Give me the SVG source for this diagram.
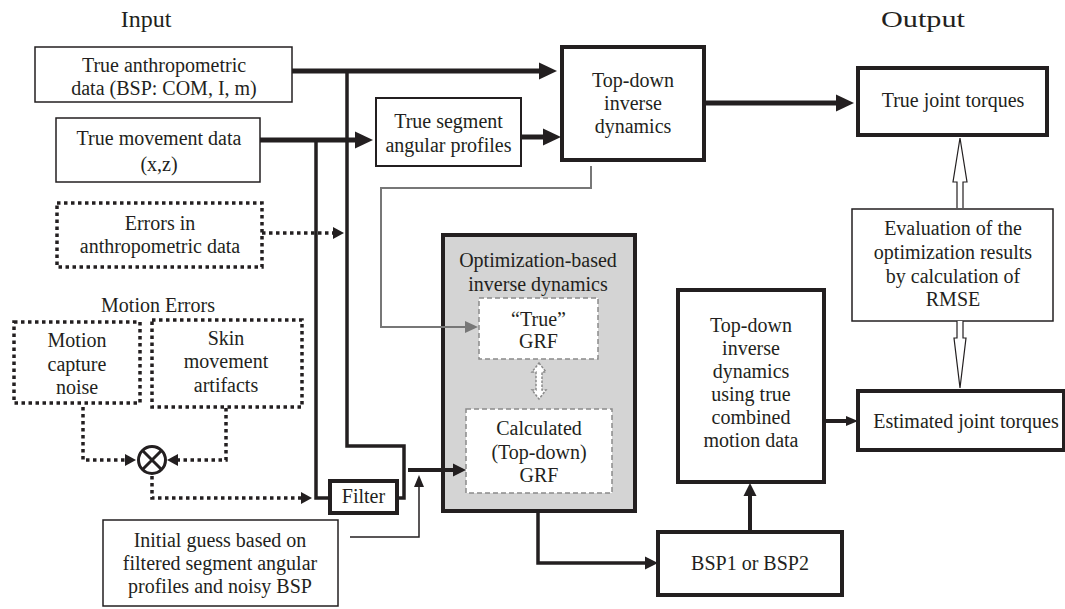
<svg xmlns="http://www.w3.org/2000/svg" width="1065" height="609" viewBox="0 0 1065 609">
<style>
text{font-family:"Liberation Serif","Times New Roman","DejaVu Serif",serif;font-size:20px;fill:#231f20;text-anchor:middle}
.lbl{font-size:24px}
.thin{fill:#fff;stroke:#231f20;stroke-width:1.5}
.mid{fill:#fff;stroke:#231f20;stroke-width:2}
.thick{fill:#fff;stroke:#231f20;stroke-width:4}
.dot{fill:#fff;stroke:#231f20;stroke-width:3.5;stroke-dasharray:3.5 3.5}
.dash{fill:#fff;stroke:#8a8a8a;stroke-width:1.5;stroke-dasharray:5 3}
.c{fill:none;stroke:#231f20}
.dc{fill:none;stroke:#231f20;stroke-width:3.5;stroke-dasharray:3.5 3.5}
</style>
<defs>
<marker id="ahL" markerUnits="userSpaceOnUse" markerWidth="20" markerHeight="20" viewBox="0 -10 20 20" refX="0" refY="0" orient="auto"><path d="M0,-8.5 L18,0 L0,8.5 Z" fill="#231f20"/></marker>
<marker id="ahM" markerUnits="userSpaceOnUse" markerWidth="16" markerHeight="16" viewBox="0 -8 16 16" refX="0" refY="0" orient="auto"><path d="M0,-6.5 L13,0 L0,6.5 Z" fill="#231f20"/></marker>
<marker id="ahS" markerUnits="userSpaceOnUse" markerWidth="14" markerHeight="14" viewBox="0 -7 14 14" refX="0" refY="0" orient="auto"><path d="M0,-5 L12,0 L0,5 Z" fill="#231f20"/></marker>
<marker id="ahD" markerUnits="userSpaceOnUse" markerWidth="14" markerHeight="14" viewBox="0 -7 14 14" refX="0" refY="0" orient="auto"><path d="M0,-6 L11,0 L0,6 Z" fill="#231f20"/></marker>
<marker id="ahG" markerUnits="userSpaceOnUse" markerWidth="16" markerHeight="16" viewBox="0 -8 16 16" refX="0" refY="0" orient="auto"><path d="M0,-6 L13,0 L0,6 Z" fill="#777"/></marker>
</defs>
<rect width="1065" height="609" fill="#fff"/>

<text class="lbl" x="146" y="27">Input</text>
<text class="lbl" x="923" y="27" textLength="84" lengthAdjust="spacingAndGlyphs">Output</text>

<g id="true-anthro"><rect class="thin" x="35" y="47" width="257" height="55"/><text x="164" y="72">True anthropometric</text><text x="164" y="95">data (BSP: COM, I, m)</text></g>
<g id="true-movement"><rect class="thin" x="56" y="118" width="204" height="64"/><text x="159" y="145">True movement data</text><text x="159" y="171">(x,z)</text></g>
<g id="segment-profiles"><rect class="mid" x="376" y="98" width="145" height="68"/><text x="448.5" y="128">True segment</text><text x="448.5" y="152">angular profiles</text></g>
<g id="topdown"><rect class="thick" x="562" y="47" width="142" height="113"/><text x="633" y="87">Top-down</text><text x="633" y="110">inverse</text><text x="633" y="133">dynamics</text></g>
<g id="true-torques"><rect class="thick" x="858" y="68" width="189" height="67"/><text x="953" y="107">True joint torques</text></g>
<g id="evaluation"><rect class="thin" x="852" y="209" width="201" height="112"/><text x="953" y="235">Evaluation of the</text><text x="953" y="259">optimization results</text><text x="953" y="283">by calculation of</text><text x="953" y="306">RMSE</text></g>
<g id="errors-anthro"><rect class="dot" x="57" y="203" width="205" height="64"/><text x="160" y="230">Errors in</text><text x="160" y="253">anthropometric data</text></g>
<g id="motion-errors-label"><text x="158" y="312">Motion Errors</text></g>
<g id="capture-noise"><rect class="dot" x="14" y="322" width="126" height="81"/><text x="77" y="347">Motion</text><text x="77" y="371">capture</text><text x="77" y="394">noise</text></g>
<g id="skin-artifacts"><rect class="dot" x="152" y="320" width="150" height="87"/><text x="226" y="345">Skin</text><text x="226" y="368">movement</text><text x="226" y="392">artifacts</text></g>
<g id="combine"><circle cx="152" cy="460" r="13.5" fill="#fff" stroke="#231f20" stroke-width="3"/><path d="M142.5,450.5 L161.5,469.5 M161.5,450.5 L142.5,469.5" stroke="#231f20" stroke-width="3"/></g>
<g id="filter"><rect class="thick" x="330" y="481" width="67" height="32"/><text x="363.5" y="503">Filter</text></g>
<g id="initial-guess"><rect class="thin" x="103" y="520" width="235" height="86"/><text x="220" y="547">Initial guess based on</text><text x="220" y="570">filtered segment angular</text><text x="220" y="593">profiles and noisy BSP</text></g>
<g id="optimization"><rect x="443" y="235" width="192" height="276" fill="#d4d4d4" stroke="#231f20" stroke-width="4"/><text x="538" y="267">Optimization-based</text><text x="538" y="291">inverse dynamics</text>
<rect class="dash" x="479" y="298" width="119" height="61"/><text x="538.5" y="326">“True”</text><text x="538.5" y="348">GRF</text>
<path d="M539,363 L546,372 L542,372 L542,390 L546,390 L539,399 L532,390 L536,390 L536,372 L532,372 Z" fill="#fff" stroke="#8a8a8a" stroke-width="1.5" stroke-dasharray="2.5 1.5"/>
<rect class="dash" x="466" y="409" width="146" height="84"/><text x="539" y="435">Calculated</text><text x="539" y="459">(Top-down)</text><text x="539" y="482">GRF</text></g>
<g id="bsp"><rect class="thick" x="658" y="532" width="184" height="63"/><text x="750" y="570">BSP1 or BSP2</text></g>
<g id="topdown-combined"><rect class="thick" x="678" y="290" width="146" height="192"/><text x="751" y="332">Top-down</text><text x="751" y="355">inverse</text><text x="751" y="378">dynamics</text><text x="751" y="401">using true</text><text x="751" y="424">combined</text><text x="751" y="447">motion data</text></g>
<g id="estimated-torques"><rect class="thick" x="858" y="391" width="206" height="59"/><text x="966" y="428">Estimated joint torques</text></g>

<g id="connectors">
<path class="c" stroke-width="5" d="M292,71 L539,71" marker-end="url(#ahL)"/>
<path class="c" stroke-width="5" d="M260,140 L355,140" marker-end="url(#ahL)"/>
<path class="c" stroke-width="5" d="M521,137 L543,137" marker-end="url(#ahL)"/>
<path class="c" stroke-width="5" d="M704,103 L836,103" marker-end="url(#ahL)"/>
<path class="c" stroke-width="3.5" d="M347,72 L347,446 L404,446 L404,498 L397,498"/>
<path class="c" stroke-width="3.5" d="M316,141 L316,498 L330,498"/>
<path class="c" stroke-width="4" d="M408,470 L453,470" marker-end="url(#ahM)"/>
<path class="c" stroke-width="1.5" d="M350,537 L419,537 L419,487" marker-end="url(#ahS)"/>
<path fill="none" stroke="#777" stroke-width="2" d="M591,166 L591,188 L381,188 L381,327 L465,327" marker-end="url(#ahG)"/>
<path class="c" stroke-width="3.5" d="M538,511 L538,563 L645,563" marker-end="url(#ahM)"/>
<path class="c" stroke-width="4" d="M750,532 L750,496" marker-end="url(#ahM)"/>
<path class="c" stroke-width="4" d="M824,421 L846,421" marker-end="url(#ahS)"/>
<path class="dc" d="M262,233 L333,233" marker-end="url(#ahD)"/>
<path class="dc" d="M83,407 L83,460 L125,460" marker-end="url(#ahD)"/>
<path class="dc" d="M226,408 L226,460 L178,460" marker-end="url(#ahD)"/>
<path class="dc" d="M152,476 L152,498 L301,498" marker-end="url(#ahD)"/>
<path d="M957,208 L957,182 L953,182 L960,138 L967,182 L963,182 L963,208" fill="#fff" stroke="#231f20" stroke-width="1.2"/>
<path d="M957,321 L957,338 L954,338 L960,388 L966,338 L963,338 L963,321" fill="#fff" stroke="#231f20" stroke-width="1.2"/>
</g>
</svg>
